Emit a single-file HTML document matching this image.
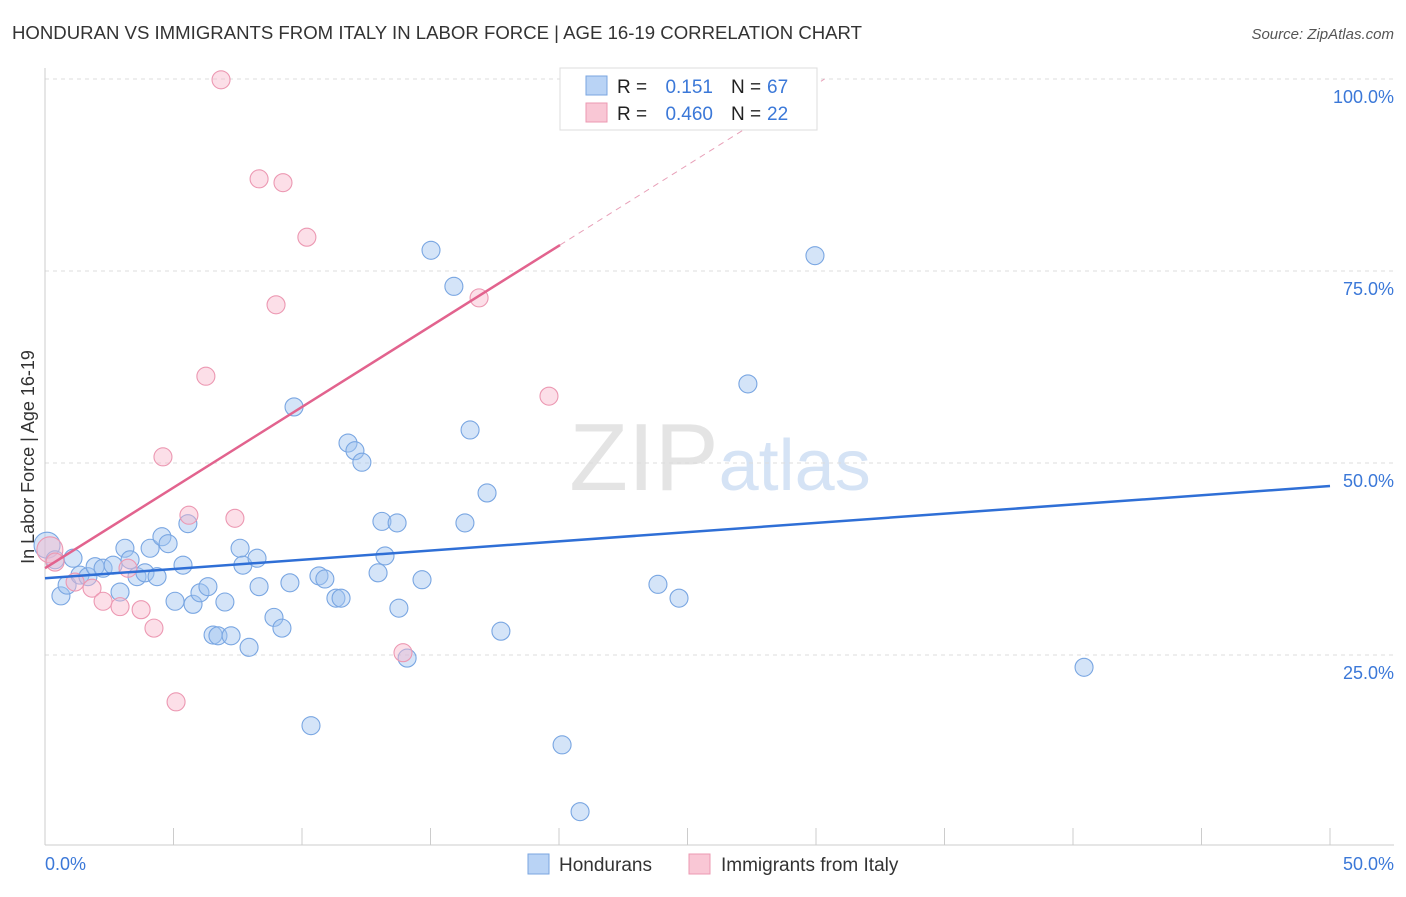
<!DOCTYPE html>
<html><head><meta charset="utf-8"><style>
body{margin:0;background:#fff;font-family:"Liberation Sans",sans-serif;}
svg text{font-family:"Liberation Sans",sans-serif;}
</style></head><body>
<svg id="chart" width="1406" height="892" xmlns="http://www.w3.org/2000/svg">
<text x="12" y="39" font-size="18" fill="#333" textLength="850" lengthAdjust="spacingAndGlyphs">HONDURAN VS IMMIGRANTS FROM ITALY IN LABOR FORCE | AGE 16-19 CORRELATION CHART</text>
<text x="1394" y="39" font-size="15" fill="#555" text-anchor="end" font-style="italic">Source: ZipAtlas.com</text>
<text x="720" y="490" font-size="96" fill="#e4e4e4" text-anchor="middle" font-family="Liberation Serif">ZIP<tspan fill="#d5e3f5" font-family="Liberation Sans" font-size="72">atlas</tspan></text>
<g id="grid"></g>
<g id="axes"></g>
<g id="points"></g>
<g id="trends"></g>
<text transform="translate(34,457) rotate(-90)" font-size="18" fill="#333" text-anchor="middle">In Labor Force | Age 16-19</text>
<text x="45" y="870" font-size="18" fill="#3b78d8">0.0%</text>
<text x="1394" y="870" font-size="18" fill="#3b78d8" text-anchor="end">50.0%</text>
<g>
<rect x="560" y="68" width="257" height="62" fill="#fff" stroke="#ddd"/>
<rect x="586" y="76" width="21" height="19" fill="#b9d3f5" stroke="#7aa6e0"/>
<rect x="586" y="103" width="21" height="19" fill="#f9c7d5" stroke="#ec98b2"/>
<text x="617" y="93" font-size="19" fill="#222">R =</text>
<text x="713" y="93" font-size="19" fill="#3b78d8" text-anchor="end">0.151</text>
<text x="731" y="93" font-size="19" fill="#222">N =</text>
<text x="767" y="93" font-size="19" fill="#3b78d8">67</text>
<text x="617" y="120" font-size="19" fill="#222">R =</text>
<text x="713" y="120" font-size="19" fill="#3b78d8" text-anchor="end">0.460</text>
<text x="731" y="120" font-size="19" fill="#222">N =</text>
<text x="767" y="120" font-size="19" fill="#3b78d8">22</text>
</g>
<g>
<rect x="528" y="854" width="21" height="20" fill="#b9d3f5" stroke="#7aa6e0"/>
<text x="559" y="871" font-size="19" fill="#333">Hondurans</text>
<rect x="689" y="854" width="21" height="20" fill="#f9c7d5" stroke="#ec98b2"/>
<text x="721" y="871" font-size="19" fill="#333">Immigrants from Italy</text>
</g>
</svg>
<script>
const yTicks=[25,50,75,100];
const yTickLabels=["25.0%","50.0%","75.0%","100.0%"];
const xTicks=[0,5,10,15,20,25,30,35,40,45,50];
const blueX=[0.08,0.39,1.09,0.62,0.86,1.36,1.67,1.95,2.26,2.65,2.92,3.11,3.31,3.58,3.89,4.09,4.36,4.55,4.79,5.06,5.37,5.56,5.76,6.03,6.34,6.54,6.73,7.00,7.24,7.59,7.70,7.94,8.25,8.33,8.91,9.22,9.53,9.69,10.35,10.66,10.89,11.32,11.52,11.79,12.06,12.33,12.96,13.11,13.23,13.70,13.77,14.09,14.67,15.02,15.91,16.34,16.54,17.20,17.74,20.12,20.82,23.85,24.67,27.35,29.96,40.43];
const blueY=[39.3,37.4,37.6,32.7,34.1,35.4,35.2,36.5,36.3,36.7,33.2,38.9,37.4,35.2,35.7,38.9,35.2,40.4,39.5,32.0,36.7,42.1,31.6,33.1,33.9,27.6,27.5,31.9,27.5,38.9,36.7,26.0,37.6,33.9,29.9,28.5,34.4,57.3,15.8,35.3,34.9,32.4,32.4,52.6,51.6,50.1,35.7,42.4,37.9,42.2,31.1,24.6,34.8,77.7,73.0,42.2,54.3,46.1,28.1,13.3,4.6,34.2,32.4,60.3,77.0,23.4];
const pinkX=[6.85,8.33,9.26,10.19,8.99,6.26,4.59,5.60,7.39,16.89,19.61,0.19,0.39,1.17,1.83,2.26,2.92,3.74,4.24,5.10,13.93,3.23];
const pinkY=[99.9,87.0,86.5,79.4,70.6,61.3,50.8,43.2,42.8,71.5,58.7,38.7,37.1,34.5,33.7,32.0,31.3,30.9,28.5,18.9,25.3,36.3];
const blueTrend=[35.0,47.0];
const pinkTrend=[36.3,2.1];
const NS="http://www.w3.org/2000/svg";
const sx=v=>45+v*25.7, sy=v=>847-v*7.68;
function mk(tag,attrs,parent){const e=document.createElementNS(NS,tag);for(const k in attrs)e.setAttribute(k,attrs[k]);document.getElementById(parent).appendChild(e);return e;}
yTicks.forEach((t,i)=>{
 const l=mk('line',{x1:45,x2:1394,y1:sy(t),y2:sy(t),stroke:'#ddd','stroke-dasharray':'4,4'},'grid');
 
 
 const tx=mk('text',{x:1394,y:sy(t)+24,'font-size':18,fill:'#3b78d8','text-anchor':'end'},'grid');
 tx.textContent=yTickLabels[i];
 
 
});
const ax=mk('line',{x1:45,x2:45,y1:68,y2:845,stroke:'#ccc'},'axes');


const bx=mk('line',{x1:45,x2:1394,y1:845,y2:845,stroke:'#ccc'},'axes');


xTicks.forEach(t=>{
 const l=mk('line',{x1:sx(t),x2:sx(t),y1:828,y2:845,stroke:'#ccc'},'axes');
 
 
});
blueX.forEach((x,i)=>{
 const c=mk('circle',{cx:sx(x),cy:sy(blueY[i]),r:i===0?13:9,fill:'rgba(160,196,240,0.45)',stroke:'#79a6e2','stroke-width':1.1},'points');
 
 
});
pinkX.forEach((x,i)=>{
 const c=mk('circle',{cx:sx(x),cy:sy(pinkY[i]),r:i===11?13:9,fill:'rgba(248,185,205,0.45)',stroke:'#ec98b2','stroke-width':1.1},'points');
 
 
});
const bl=mk('line',{x1:sx(0),y1:sy(blueTrend[0]),x2:sx(50),y2:sy(blueTrend[1]),stroke:'#2f6fd6','stroke-width':2.5},'trends');


const pEnd=20.04, pDash=(100-pinkTrend[0])/pinkTrend[1];
const pl=mk('line',{x1:sx(0),y1:sy(pinkTrend[0]),x2:sx(pEnd),y2:sy(pinkTrend[0]+pinkTrend[1]*pEnd),stroke:'#e2638e','stroke-width':2.5},'trends');


const pd=mk('line',{x1:sx(pEnd),y1:sy(pinkTrend[0]+pinkTrend[1]*pEnd),x2:sx(pDash),y2:sy(100),stroke:'#e8a0b8','stroke-width':1,'stroke-dasharray':'6,5'},'trends');


</script>
</body></html>
